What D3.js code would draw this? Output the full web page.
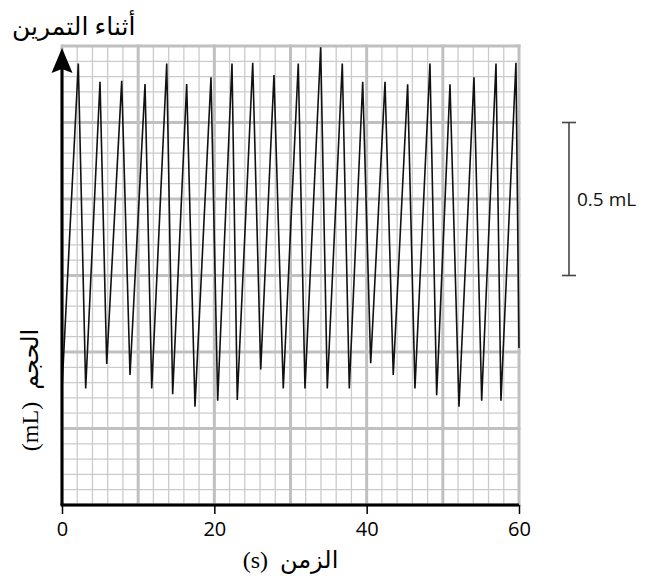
<!DOCTYPE html>
<html>
<head>
<meta charset="utf-8">
<script src="https://cdn.jsdelivr.net/npm/d3@7"></script>
<style>
  body { margin: 0; background: #fff; }
  svg { display: block; }
</style>
</head>
<body>
<svg id="chart" width="654" height="583"></svg>
<script>
// values (time in s, volume in mL)
const timeS = [0, 2.14, 3.11, 4.99, 5.87, 7.84, 8.93, 10.90, 11.78, 13.75, 14.53, 16.37, 17.46, 19.56,
    20.44, 22.32, 23.01, 25.04, 26.09, 27.83, 29.05, 31.02, 31.90, 33.96, 34.83, 36.80, 37.72, 39.48,
    40.53, 42.41, 43.49, 45.38, 46.34, 48.31, 49.19, 50.94, 52.12, 54.09, 55.10, 56.98, 57.63, 59.60, 60]
const volumeML = [0.38, 1.443, 0.381, 1.383, 0.461, 1.386, 0.425, 1.376, 0.381, 1.443, 0.362, 1.376, 0.321, 1.398,
    0.341, 1.443, 0.343, 1.445, 0.443, 1.405, 0.381, 1.443, 0.381, 1.496, 0.381, 1.443, 0.381, 1.383,
    0.463, 1.383, 0.425, 1.375, 0.381, 1.443, 0.359, 1.375, 0.321, 1.398, 0.341, 1.443, 0.341, 1.445, 0.513]

const xTicks = [0, 20, 40, 60]
const scaleBar = [0.75, 1.25]
const scaleLabel = "0.5 mL"
const titleText = "أثناء التمرين"
const xLabel = "(s)\u00a0\u00a0الزمن"
const yLabel = "(mL)\u00a0\u00a0الحجم"

const svg = d3.select("#chart")

const x = d3.scaleLinear().domain([0, 60]).range([62, 519])
const y = d3.scaleLinear().domain([0, 1.5]).range([505, 46])

const minorX = d3.range(0, 60.001, 2)
const minorY = d3.range(0, 1.5001, 0.05)
const majorX = d3.range(0, 60.001, 10)
const majorY = d3.range(0, 1.5001, 0.25)

// grid paper
const grid = svg.append("g")
grid.selectAll(".minorV").data(minorX).enter().append("line")
    .attr("x1", d => x(d)).attr("x2", d => x(d))
    .attr("y1", y(0)).attr("y2", y(1.5))
    .attr("stroke", "#cbcbcb").attr("stroke-width", 1.3)
grid.selectAll(".minorH").data(minorY).enter().append("line")
    .attr("x1", x(0)).attr("x2", x(60))
    .attr("y1", d => y(d)).attr("y2", d => y(d))
    .attr("stroke", "#cbcbcb").attr("stroke-width", 1.3)
grid.selectAll(".majorV").data(majorX).enter().append("line")
    .attr("x1", d => x(d)).attr("x2", d => x(d))
    .attr("y1", y(0)).attr("y2", y(1.5) - 1.5)
    .attr("stroke", "#c0c0c0").attr("stroke-width", 3)
grid.selectAll(".majorH").data(majorY).enter().append("line")
    .attr("x1", x(0)).attr("x2", x(60) + 1.5)
    .attr("y1", d => y(d)).attr("y2", d => y(d))
    .attr("stroke", "#c0c0c0").attr("stroke-width", 3)

// trace
const points = timeS.map((t, i) => [t, volumeML[i]])
svg.append("path")
    .datum(points)
    .attr("fill", "none")
    .attr("stroke", "#111")
    .attr("stroke-width", 1.6)
    .attr("stroke-linejoin", "miter")
    .attr("d", d3.line().x(d => x(d[0])).y(d => y(d[1])))

// x axis
const xAxis = svg.append("g")
    .attr("transform", "translate(0," + y(0) + ")")
    .call(d3.axisBottom(x).tickValues(xTicks).tickSize(9).tickPadding(8).tickFormat(d3.format("d")))
xAxis.select(".domain").remove()
xAxis.selectAll(".tick line").attr("stroke", "#000").attr("stroke-width", 1.5)
xAxis.selectAll(".tick text")
    .attr("fill", "#000")
    .style("font-family", "'Open Sans', 'Noto Sans', sans-serif")
    .style("font-size", "20px")

svg.append("line")
    .attr("x1", x(0) - 1.5).attr("x2", x(60))
    .attr("y1", y(0)).attr("y2", y(0))
    .attr("stroke", "#000").attr("stroke-width", 3)

// y axis with arrow
svg.append("line")
    .attr("x1", x(0)).attr("x2", x(0))
    .attr("y1", y(0)).attr("y2", 62)
    .attr("stroke", "#000").attr("stroke-width", 3)
svg.append("path")
    .attr("d", "M" + x(0) + ",48 L" + (x(0) - 10.5) + ",73 L" + x(0) + ",69 L" + (x(0) + 10.5) + ",73 Z")
    .attr("fill", "#000")

// scale bar
const sbX = 569
const bar = svg.append("g").attr("stroke", "#444").attr("stroke-width", 1.6)
bar.append("line").attr("x1", sbX).attr("x2", sbX).attr("y1", y(scaleBar[0])).attr("y2", y(scaleBar[1]))
bar.selectAll(".cap").data(scaleBar).enter().append("line")
    .attr("x1", sbX - 7).attr("x2", sbX + 7)
    .attr("y1", d => y(d)).attr("y2", d => y(d))
svg.append("text")
    .attr("x", 577).attr("y", y(d3.mean(scaleBar)) + 7)
    .style("font-family", "'Open Sans', 'Noto Sans', sans-serif")
    .style("font-size", "19px")
    .attr("fill", "#111")
    .text(scaleLabel)

// labels
const serifFont = "'Liberation Serif', 'DejaVu Serif', 'DejaVu Sans', serif"
svg.append("text")
    .attr("x", 12).attr("y", 35)
    .style("font-family", serifFont)
    .style("font-size", "25px")
    .text(titleText)

svg.append("text")
    .attr("x", x(30)).attr("y", 568)
    .attr("text-anchor", "middle")
    .style("font-family", serifFont)
    .style("font-size", "24px")
    .text(xLabel)

svg.append("text")
    .attr("transform", "translate(38,390) rotate(-90)")
    .attr("text-anchor", "middle")
    .style("font-family", serifFont)
    .style("font-size", "24px")
    .text(yLabel)
</script>
</body>
</html>
